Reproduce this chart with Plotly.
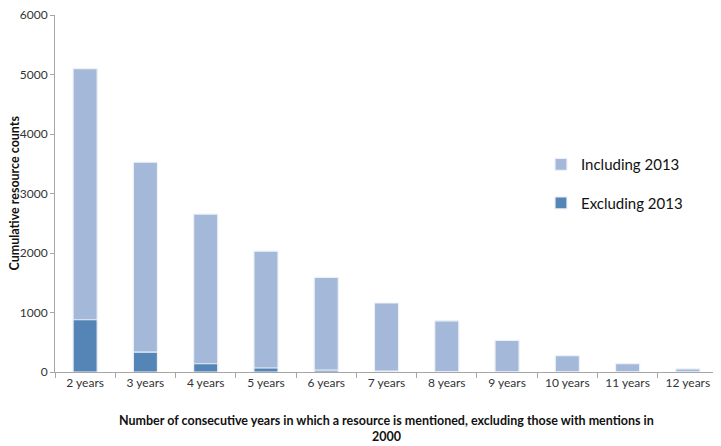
import plotly.graph_objects as go

categories = ["2 years", "3 years", "4 years", "5 years", "6 years", "7 years",
              "8 years", "9 years", "10 years", "11 years", "12 years"]
including_2013 = [5100, 3525, 2655, 2030, 1590, 1160, 860, 530, 275, 140, 52]
excluding_2013 = [878, 333, 139, 67, 33, 15, 5, 3, 2, 1, 0]

x_title = "<b>Number of consecutive years in which a resource is mentioned, excluding those with mentions in<br>2000</b>"
y_title = "<b>Cumulative resource counts</b>"

FONT = "Lato"
fig = go.Figure()
fig.add_trace(go.Bar(
    x=categories, y=including_2013, name="Including 2013",
    marker=dict(color="#A4B8D9", line=dict(color="#EEF1F7", width=1.2)),
    width=0.4, legendgroup="a"))
fig.add_trace(go.Bar(
    x=categories, y=excluding_2013, name="Excluding 2013",
    marker=dict(color="#5585B6", line=dict(color="#EEF1F7", width=1.2)),
    width=0.4, legendgroup="b"))

fig.update_layout(
    width=713, height=438,
    barmode="overlay",
    paper_bgcolor="white", plot_bgcolor="white",
    margin=dict(l=47, r=3, t=7, b=74, autoexpand=False),
    font=dict(family=FONT, size=12, color="#222"),
    legend=dict(x=0.733, y=0.627, xanchor="left", yanchor="top",
                traceorder="grouped", tracegroupgap=16,
                font=dict(size=15, color="#111"), bgcolor="rgba(0,0,0,0)"),
    xaxis=dict(
        automargin=False,
        showline=True, linecolor="#A6A6A6", linewidth=1,
        ticks="outside", tickson="boundaries", ticklen=5, tickcolor="#A6A6A6",
        tickfont=dict(size=12, color="#333"),
    ),
    yaxis=dict(
        automargin=False, ticklabeloverflow="allow",
        range=[0, 6000], dtick=1000, showgrid=False, zeroline=False,
        showline=True, linecolor="#A6A6A6", linewidth=1,
        ticks="outside", ticklen=4, tickcolor="#A6A6A6",
        tickfont=dict(size=12, color="#333"),
    ),
    annotations=[
        dict(text=x_title, xref="paper", yref="paper", x=0.5, y=-0.157,
             xanchor="center", yanchor="middle", showarrow=False,
             font=dict(size=12.5, color="#111")),
        dict(text=y_title, xref="paper", yref="paper", x=-0.0618, y=0.5,
             xanchor="center", yanchor="middle", textangle=-90, showarrow=False,
             font=dict(size=12.5, color="#111")),
    ],
)

fig.write_html("out.html")
